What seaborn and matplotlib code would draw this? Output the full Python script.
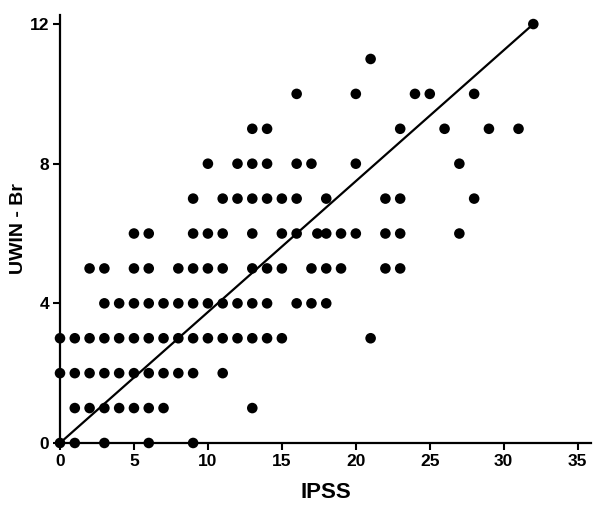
import matplotlib
matplotlib.use("Agg")
import matplotlib.pyplot as plt
import seaborn as sns
import pandas as pd

# IPSS values for each UWIN - Br level
row0 = [0, 1, 3, 6, 9]
row1 = [1, 2, 3, 4, 5, 6, 7, 13]
row2 = [0, 1, 2, 3, 4, 5, 6, 7, 8, 9, 11]
row3 = [0, 1, 2, 3, 4, 5, 6, 7, 8, 9, 10, 11, 12, 13, 14, 15, 21]
row4 = [3, 4, 5, 6, 7, 8, 9, 10, 11, 12, 13, 14, 16, 17, 18]
row5 = [2, 3, 5, 6, 8, 9, 10, 11, 13, 14, 15, 17, 18, 19, 22, 23]
row6 = [5, 6, 9, 10, 11, 13, 15, 16, 17.4, 18, 19, 20, 22, 23, 27]
row7 = [9, 11, 12, 13, 14, 15, 16, 18, 22, 23, 28]
row8 = [10, 12, 13, 14, 16, 17, 20, 27]
row9 = [13, 14, 23, 26, 29, 31]
row10 = [16, 20, 24, 25, 28]
row11 = [21]
row12 = [32]
rows = [row0, row1, row2, row3, row4, row5, row6, row7, row8,
        row9, row10, row11, row12]

# fitted line endpoints
line_x = [0, 32]
line_y = [0, 12]

x_ticks = [0, 5, 10, 15, 20, 25, 30, 35]
y_ticks = [0, 4, 8, 12]

ipss = []
uwin = []
for level, xs in enumerate(rows):
    ipss.extend(xs)
    uwin.extend([level] * len(xs))
df = pd.DataFrame({"IPSS": ipss, "UWIN - Br": uwin})

sns.set_style("ticks")
plt.rcParams["font.family"] = ["Liberation Sans", "DejaVu Sans"]
plt.rcParams["text.color"] = "black"
plt.rcParams["axes.labelcolor"] = "black"
plt.rcParams["xtick.color"] = "black"
plt.rcParams["ytick.color"] = "black"

fig = plt.figure(figsize=(6.0, 5.08), dpi=100)
ax = fig.add_axes([0.1, 0.128, 0.885, 0.8425])

sns.lineplot(x=line_x, y=line_y, ax=ax, color="black", linewidth=1.6)
sns.scatterplot(data=df, x="IPSS", y="UWIN - Br", ax=ax, color="black",
                s=58, edgecolor="none", clip_on=False, zorder=3)

ax.set_xlim(0, 35.9)
ax.set_ylim(0, 12.26)
ax.set_xticks(x_ticks)
ax.set_yticks(y_ticks)
ax.set_xticklabels([str(t) for t in x_ticks], fontsize=12.5, fontweight="bold", color="black")
ax.set_yticklabels([str(t) for t in y_ticks], fontsize=12.5, fontweight="bold", color="black")
ax.tick_params(axis="both", direction="out", length=5, width=1.5,
               color="black", labelcolor="black", pad=3)
for side in ["left", "bottom"]:
    ax.spines[side].set_linewidth(1.6)
    ax.spines[side].set_color("black")
sns.despine(ax=ax)

ax.set_xlabel("IPSS", fontsize=16, fontweight="bold", labelpad=9, color="black")
ax.set_ylabel("UWIN - Br", fontsize=14, fontweight="bold", labelpad=2, color="black")

fig.savefig("out.png", dpi=100)
